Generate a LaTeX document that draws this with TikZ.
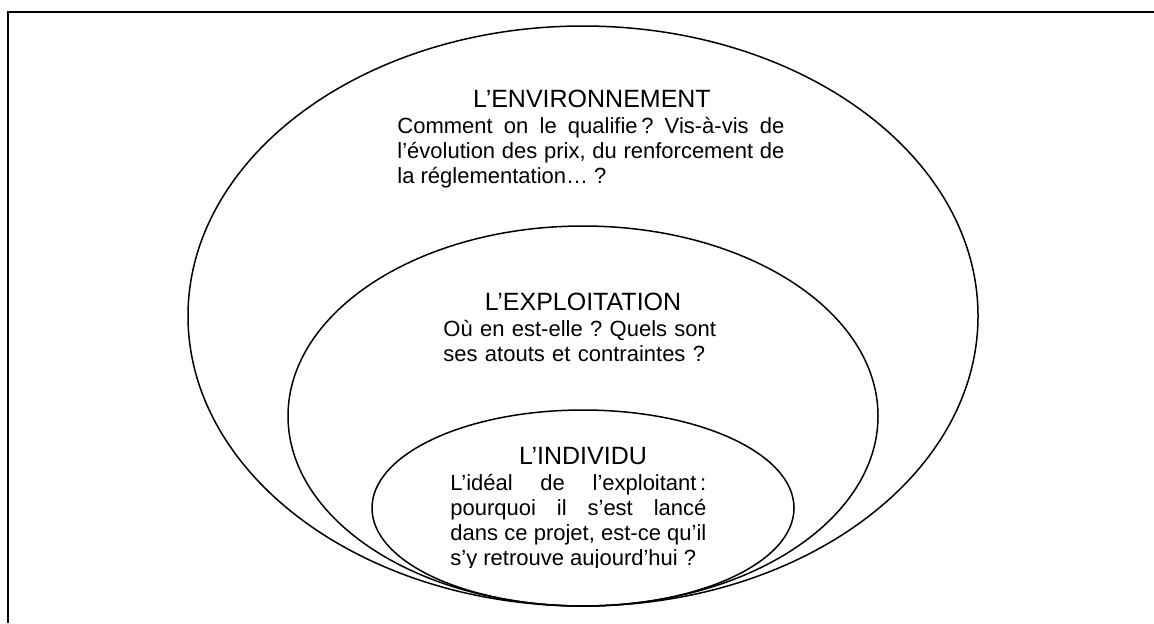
\documentclass[tikz,border=0pt]{standalone}
\usepackage{fontspec}
\setmainfont{Liberation Sans}
\frenchspacing

\tikzset{
  ring/.style={line width=0.75pt},
  frame/.style={line width=1pt},
  title/.style={font=\fontsize{12.5}{14}\selectfont, inner sep=0pt, anchor=base},
  body/.style={font=\fontsize{11}{12.5}\selectfont, inner sep=0pt, anchor=base west}
}

\begin{document}
\begin{tikzpicture}[x=0.5pt, y=-0.5pt]
      \useasboundingbox (0,0) rectangle (1154,623);

      % cadre
      \draw[frame] (1154,12) -- (8,12) -- (8,623);

      % les trois ellipses
      \draw[ring] (583,316) ellipse [x radius=197.5pt, y radius=145pt];
      \draw[ring] (583,416) ellipse [x radius=147.5pt, y radius=95pt];
      \draw[ring] (583,508) ellipse [x radius=105.5pt, y radius=49pt];

      % environnement
      \node[title] (envTitle) at (592,107) {L’ENVIRONNEMENT};
      \node[body, text width=193.5pt, align=justify] (envText) at (397,133)
        {Comment on le qualifie\,? Vis-à-vis de\linebreak l’évolution des prix, du renforcement de\linebreak la réglementation…~?};

      % exploitation
      \node[title] (expTitle) at (583,310) {L’EXPLOITATION};
      \node[body, text width=150pt, align=left] (expText) at (443,336)
        {Où en est-elle~? Quels sont\\ ses atouts et contraintes~?};

      % individu
      \node[title] (indTitle) at (583,464) {L’INDIVIDU};
      \begin{scope}
        \clip (0,0) rectangle (1154,567);
        \node[body, text width=128pt, align=justify] (indText) at (450,490)
          {L’idéal de l’exploitant\,:\linebreak pourquoi il s’est lancé\linebreak dans ce projet, est-ce qu’il\linebreak s’y retrouve aujourd’hui~?};
      \end{scope}
\end{tikzpicture}
\end{document}
